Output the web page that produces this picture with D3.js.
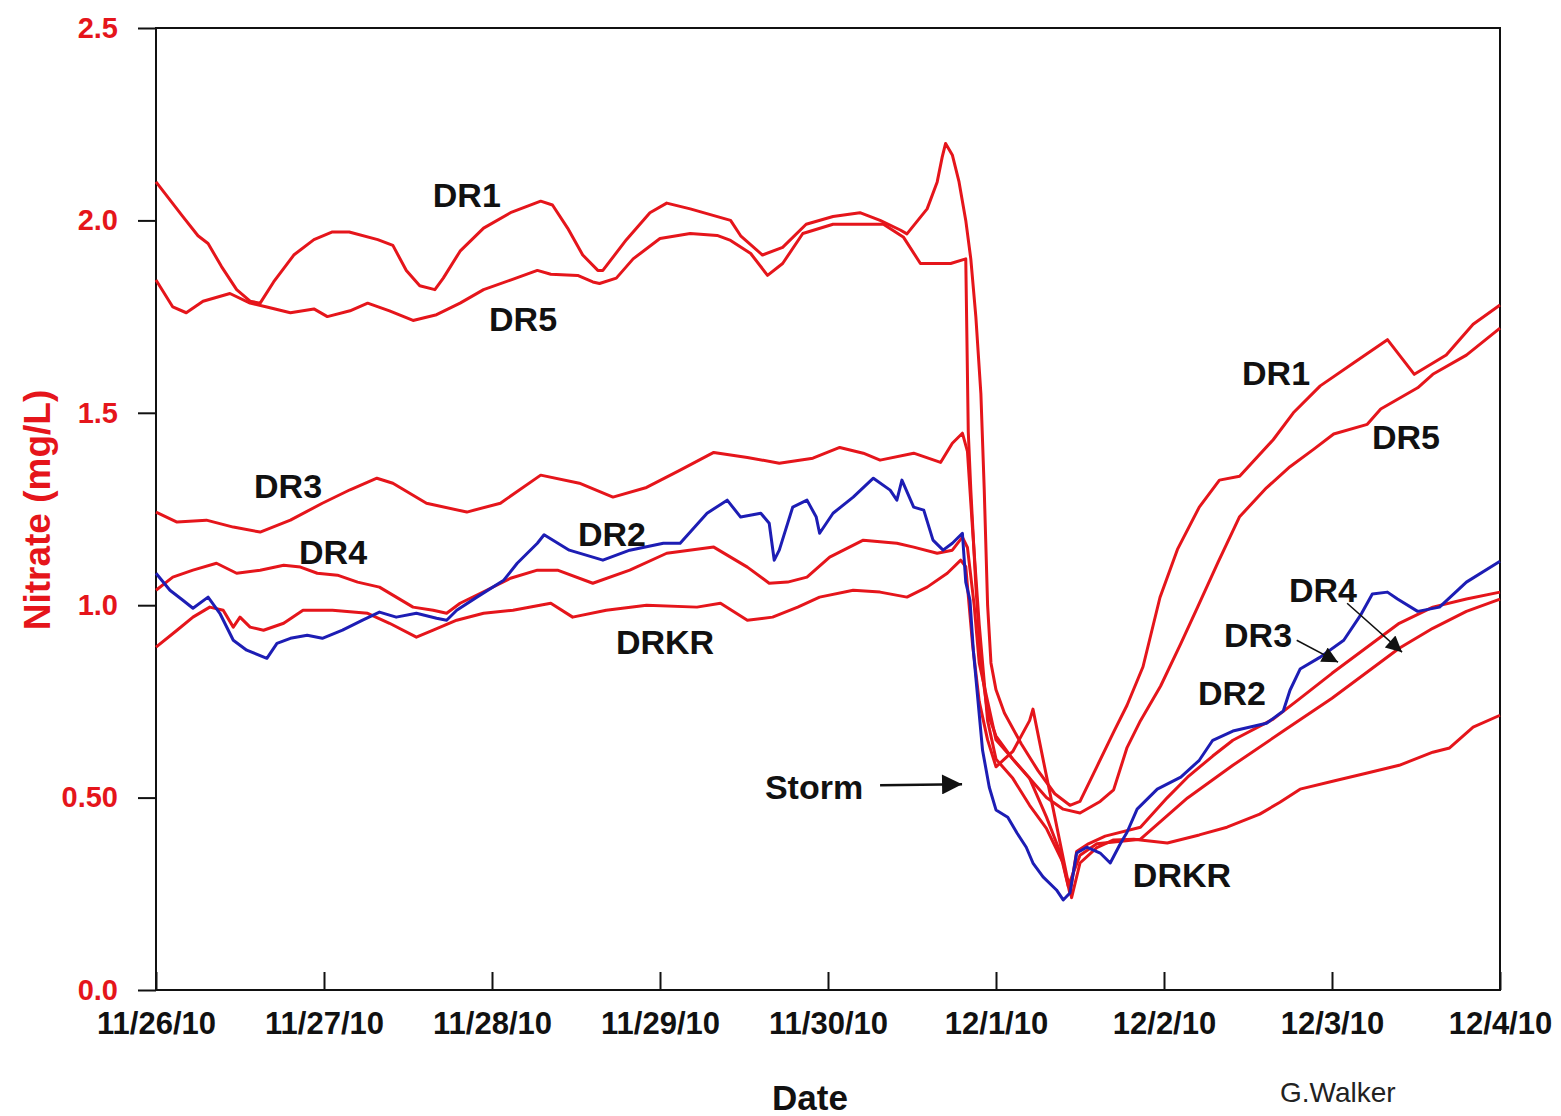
<!DOCTYPE html>
<html>
<head>
<meta charset="utf-8">
<script src="https://cdn.jsdelivr.net/npm/d3@7"></script>
<style>
  html, body { margin: 0; padding: 0; background: #fff; overflow: hidden; }
  svg { display: block; }
  text { font-family: "Liberation Sans", Arial, Helvetica, sans-serif; font-weight: bold; }
</style>
</head>
<body>
<svg id="chart" width="1561" height="1116"></svg>
<script>
// Nitrate concentration, 11/26/10 – 12/4/10. Points are [days since 11/26/10, mg/L].
const startDate = Date.UTC(2010, 10, 26);

const dr1 = [[0,2.10],[0.16,2.01],[0.25,1.96],[0.31,1.94],[0.39,1.88],[0.48,1.82],[0.56,1.79],[0.62,1.785],[0.70,1.84],[0.82,1.91],[0.94,1.95],[1.05,1.97],[1.15,1.97],[1.32,1.95],[1.41,1.935],[1.49,1.87],[1.57,1.83],[1.66,1.82],[1.71,1.85],[1.81,1.92],[1.95,1.98],[2.11,2.02],[2.29,2.05],[2.36,2.04],[2.45,1.98],[2.54,1.91],[2.63,1.87],[2.66,1.87],[2.80,1.95],[2.94,2.02],[3.04,2.045],[3.18,2.03],[3.42,2.00],[3.48,1.96],[3.61,1.91],[3.73,1.93],[3.87,1.99],[4.03,2.01],[4.19,2.02],[4.31,2.00],[4.43,1.975],[4.47,1.965],[4.59,2.03],[4.65,2.10],[4.68,2.165],[4.70,2.20],[4.74,2.17],[4.78,2.10],[4.82,2.0],[4.85,1.9],[4.88,1.75],[4.91,1.55],[4.93,1.3],[4.95,1.0],[4.97,0.85],[5.0,0.78],[5.05,0.72],[5.15,0.64],[5.25,0.57],[5.35,0.51],[5.44,0.48],[5.50,0.49],[5.60,0.58],[5.70,0.67],[5.78,0.74],[5.875,0.84],[5.976,1.02],[6.08,1.145],[6.21,1.255],[6.33,1.325],[6.45,1.335],[6.65,1.43],[6.77,1.50],[6.93,1.57],[7.13,1.63],[7.33,1.69],[7.49,1.60],[7.68,1.65],[7.84,1.73],[8.0,1.78]];

const dr5 = [[0,1.845],[0.10,1.775],[0.18,1.76],[0.28,1.79],[0.44,1.81],[0.56,1.785],[0.66,1.775],[0.80,1.76],[0.94,1.77],[1.02,1.75],[1.155,1.765],[1.26,1.785],[1.39,1.765],[1.53,1.74],[1.67,1.755],[1.81,1.785],[1.95,1.82],[2.11,1.845],[2.27,1.87],[2.35,1.86],[2.51,1.857],[2.60,1.84],[2.64,1.836],[2.74,1.85],[2.84,1.90],[3.0,1.953],[3.18,1.966],[3.34,1.961],[3.42,1.948],[3.54,1.914],[3.64,1.857],[3.73,1.888],[3.85,1.966],[4.03,1.99],[4.21,1.99],[4.33,1.99],[4.45,1.956],[4.55,1.888],[4.73,1.888],[4.82,1.90],[4.835,1.45],[4.85,1.30],[4.88,1.05],[4.91,0.85],[4.95,0.72],[5.0,0.66],[5.1,0.60],[5.2,0.55],[5.3,0.50],[5.4,0.47],[5.5,0.46],[5.62,0.49],[5.70,0.52],[5.78,0.63],[5.86,0.70],[5.98,0.79],[6.10,0.90],[6.20,0.995],[6.32,1.11],[6.45,1.23],[6.61,1.305],[6.75,1.36],[6.89,1.405],[7.01,1.445],[7.21,1.47],[7.29,1.51],[7.51,1.565],[7.60,1.60],[7.80,1.65],[8.0,1.72]];

const dr3 = [[0,1.242],[0.125,1.216],[0.30,1.221],[0.46,1.203],[0.62,1.19],[0.80,1.221],[0.99,1.265],[1.155,1.30],[1.315,1.33],[1.41,1.317],[1.61,1.265],[1.85,1.242],[2.05,1.265],[2.29,1.338],[2.52,1.317],[2.72,1.281],[2.92,1.306],[3.12,1.351],[3.32,1.397],[3.52,1.384],[3.71,1.369],[3.91,1.382],[4.07,1.41],[4.21,1.395],[4.31,1.377],[4.51,1.395],[4.67,1.371],[4.74,1.421],[4.80,1.447],[4.83,1.40],[4.86,1.20],[4.90,0.95],[4.95,0.70],[5.0,0.60],[5.1,0.55],[5.2,0.48],[5.3,0.42],[5.4,0.33],[5.44,0.25],[5.48,0.36],[5.55,0.38],[5.65,0.40],[5.86,0.423],[6.02,0.50],[6.14,0.553],[6.29,0.608],[6.41,0.649],[6.65,0.704],[6.81,0.758],[7.0,0.823],[7.2,0.888],[7.4,0.953],[7.6,0.995],[7.8,1.016],[8.0,1.034]];

const dr4 = [[0,1.039],[0.10,1.073],[0.22,1.091],[0.36,1.109],[0.48,1.083],[0.62,1.091],[0.76,1.104],[0.86,1.099],[0.96,1.083],[1.08,1.078],[1.20,1.06],[1.33,1.047],[1.43,1.021],[1.53,0.995],[1.65,0.987],[1.73,0.979],[1.81,1.005],[1.95,1.035],[2.11,1.07],[2.27,1.091],[2.39,1.091],[2.60,1.057],[2.82,1.091],[3.04,1.135],[3.32,1.151],[3.52,1.099],[3.65,1.057],[3.76,1.06],[3.875,1.073],[4.01,1.125],[4.21,1.169],[4.41,1.161],[4.51,1.151],[4.65,1.135],[4.74,1.143],[4.80,1.177],[4.83,1.15],[4.87,1.0],[4.90,0.85],[4.95,0.75],[5.0,0.65],[5.1,0.60],[5.2,0.55],[5.3,0.45],[5.38,0.36],[5.43,0.27],[5.5,0.35],[5.6,0.38],[5.86,0.392],[6.14,0.499],[6.41,0.584],[6.71,0.673],[7.0,0.758],[7.2,0.823],[7.4,0.888],[7.6,0.94],[7.8,0.984],[8.0,1.016]];

const drkr = [[0,0.891],[0.125,0.935],[0.22,0.969],[0.32,0.995],[0.40,0.987],[0.46,0.943],[0.50,0.969],[0.56,0.943],[0.64,0.935],[0.76,0.953],[0.875,0.987],[1.05,0.987],[1.26,0.979],[1.39,0.953],[1.55,0.917],[1.65,0.935],[1.79,0.961],[1.95,0.979],[2.125,0.987],[2.35,1.005],[2.48,0.969],[2.68,0.987],[2.92,1.0],[3.22,0.995],[3.36,1.005],[3.52,0.961],[3.67,0.969],[3.82,0.995],[3.95,1.021],[4.15,1.039],[4.31,1.034],[4.47,1.021],[4.59,1.047],[4.71,1.083],[4.79,1.117],[4.82,1.10],[4.86,0.90],[4.90,0.75],[4.95,0.65],[5.0,0.58],[5.1,0.62],[5.2,0.70],[5.22,0.73],[5.28,0.60],[5.35,0.45],[5.42,0.30],[5.45,0.24],[5.5,0.33],[5.6,0.37],[5.7,0.39],[5.82,0.392],[6.02,0.382],[6.21,0.403],[6.375,0.423],[6.57,0.457],[6.69,0.488],[6.81,0.522],[7.01,0.543],[7.21,0.564],[7.40,0.584],[7.60,0.618],[7.70,0.629],[7.84,0.683],[8.0,0.714]];

const dr2 = [[0,1.083],[0.083,1.039],[0.16,1.013],[0.22,0.992],[0.31,1.021],[0.38,0.979],[0.46,0.909],[0.54,0.883],[0.66,0.862],[0.72,0.901],[0.80,0.914],[0.90,0.922],[0.99,0.914],[1.11,0.935],[1.23,0.961],[1.33,0.982],[1.43,0.969],[1.55,0.979],[1.67,0.966],[1.73,0.961],[1.79,0.987],[1.91,1.021],[2.07,1.065],[2.15,1.109],[2.27,1.161],[2.31,1.183],[2.46,1.143],[2.66,1.117],[2.82,1.143],[3.02,1.161],[3.12,1.161],[3.28,1.239],[3.40,1.273],[3.48,1.229],[3.60,1.239],[3.65,1.213],[3.68,1.117],[3.71,1.143],[3.79,1.255],[3.875,1.273],[3.93,1.229],[3.95,1.187],[4.03,1.239],[4.15,1.281],[4.27,1.33],[4.37,1.299],[4.41,1.273],[4.44,1.325],[4.51,1.255],[4.57,1.247],[4.625,1.169],[4.685,1.143],[4.74,1.161],[4.80,1.187],[4.82,1.06],[4.845,1.013],[4.865,0.883],[4.92,0.623],[4.96,0.527],[5.0,0.468],[5.07,0.449],[5.125,0.408],[5.18,0.371],[5.22,0.33],[5.28,0.294],[5.36,0.26],[5.40,0.234],[5.44,0.252],[5.48,0.356],[5.54,0.371],[5.62,0.356],[5.68,0.33],[5.74,0.38],[5.78,0.41],[5.84,0.47],[5.96,0.522],[6.10,0.553],[6.21,0.597],[6.29,0.649],[6.41,0.673],[6.61,0.693],[6.71,0.725],[6.75,0.779],[6.81,0.834],[6.93,0.865],[7.07,0.909],[7.17,0.974],[7.24,1.029],[7.33,1.034],[7.39,1.016],[7.51,0.984],[7.64,0.995],[7.80,1.06],[8.0,1.114]];

// Axis ticks
const yTickValues = [0, 0.5, 1.0, 1.5, 2.0, 2.5];
const yTickLabels = ["0.0", "0.50", "1.0", "1.5", "2.0", "2.5"];
const xTickDays = [0, 1, 2, 3, 4, 5, 6, 7, 8];
const xTickLabels = ["11/26/10", "11/27/10", "11/28/10", "11/29/10", "11/30/10", "12/1/10", "12/2/10", "12/3/10", "12/4/10"];

// Series labels: [text, day, mg/L]
const seriesLabels = [
  ["DR1", 1.85, 2.065], ["DR5", 2.185, 1.745], ["DR3", 0.786, 1.309], ["DR4", 1.054, 1.138],
  ["DR2", 2.714, 1.184], ["DRKR", 3.03, 0.904],
  ["DR1", 6.667, 1.603], ["DR5", 7.44, 1.436], ["DR4", 6.946, 1.039], ["DR3", 6.56, 0.922],
  ["DR2", 6.405, 0.771], ["DRKR", 6.107, 0.299], ["Storm", 3.917, 0.527]
];
// Pointer arrows: [from day, from mg/L, to day, to mg/L, style]
const pointers = [
  [4.31, 0.532, 4.798, 0.535, "bold"],
  [6.79, 0.909, 7.036, 0.852, "thin"],
  [7.09, 1.005, 7.417, 0.878, "thin"]
];

const RED = "#e5151b";
const BLUE = "#1d1db4";

const svg = d3.select("#chart");
const plotLeft = 156, plotRight = 1500, plotTop = 28, plotBottom = 990;

const toDate = d => new Date(startDate + d * 86400000);
const x = d3.scaleUtc().domain([toDate(0), toDate(8)]).range([plotLeft, plotRight]);
const y = d3.scaleLinear().domain([0, 2.5]).range([plotBottom, plotTop]);

// Frame
svg.append("rect")
  .attr("x", plotLeft).attr("y", plotTop)
  .attr("width", plotRight - plotLeft).attr("height", plotBottom - plotTop)
  .attr("fill", "none").attr("stroke", "#111").attr("stroke-width", 2);

// Y axis (outward ticks, red labels)
const yAxis = svg.append("g")
  .attr("transform", `translate(${plotLeft},0)`)
  .call(d3.axisLeft(y).tickValues(yTickValues)
    .tickFormat((d, i) => yTickLabels[i]).tickSize(18).tickPadding(20));
yAxis.select(".domain").remove();
yAxis.selectAll("line").attr("stroke", "#111").attr("stroke-width", 2);
yAxis.selectAll("text").attr("fill", RED).attr("font-size", 29)
  .style("font-family", '"Liberation Sans", Arial, sans-serif').style("font-weight", "bold");

// X axis (inward ticks)
const xAxis = svg.append("g")
  .attr("transform", `translate(0,${plotBottom})`)
  .call(d3.axisBottom(x).tickValues(xTickDays.map(toDate))
    .tickFormat((d, i) => xTickLabels[i]).tickSizeInner(-18).tickSizeOuter(0).tickPadding(22));
xAxis.select(".domain").remove();
xAxis.selectAll("line").attr("stroke", "#111").attr("stroke-width", 2);
xAxis.selectAll("text").attr("fill", "#111").attr("font-size", 31)
  .style("font-family", '"Liberation Sans", Arial, sans-serif').style("font-weight", "bold");

// Axis titles
svg.append("text")
  .attr("transform", "translate(50,510) rotate(-90)")
  .attr("text-anchor", "middle").attr("fill", RED).attr("font-size", 37)
  .text("Nitrate (mg/L)");
svg.append("text")
  .attr("x", 810).attr("y", 1110)
  .attr("text-anchor", "middle").attr("fill", "#111").attr("font-size", 35)
  .text("Date");
// Credit line along the bottom edge
svg.append("text")
  .attr("x", 1280).attr("y", 1102)
  .attr("fill", "#222").attr("font-size", 28).style("font-weight", "normal")
  .text("G.Walker");

// Series
const line = d3.line().x(p => x(toDate(p[0]))).y(p => y(p[1]));
const series = [
  { name: "DR1", data: dr1, color: RED },
  { name: "DR5", data: dr5, color: RED },
  { name: "DR3", data: dr3, color: RED },
  { name: "DR4", data: dr4, color: RED },
  { name: "DRKR", data: drkr, color: RED },
  { name: "DR2", data: dr2, color: BLUE }
];
svg.append("g").selectAll("path").data(series).join("path")
  .attr("d", s => line(s.data))
  .attr("fill", "none")
  .attr("stroke", s => s.color)
  .attr("stroke-width", 3)
  .attr("stroke-linejoin", "round");

// Series labels
svg.append("g").selectAll("text").data(seriesLabels).join("text")
  .attr("x", d => x(toDate(d[1])))
  .attr("y", d => y(d[2]) + 12)
  .attr("text-anchor", "middle")
  .attr("fill", "#111")
  .attr("font-size", 34)
  .text(d => d[0]);

// Pointer arrows
const defs = svg.append("defs");
defs.append("marker").attr("id", "headBold")
  .attr("viewBox", "0 0 10 10").attr("refX", 10).attr("refY", 5)
  .attr("markerWidth", 27).attr("markerHeight", 20).attr("markerUnits", "userSpaceOnUse")
  .attr("orient", "auto")
  .append("path").attr("d", "M0,0 L10,5 L0,10 Z").attr("fill", "#111");
defs.append("marker").attr("id", "headThin")
  .attr("viewBox", "0 0 10 10").attr("refX", 10).attr("refY", 5)
  .attr("markerWidth", 22).attr("markerHeight", 16).attr("markerUnits", "userSpaceOnUse")
  .attr("orient", "auto")
  .append("path").attr("d", "M0,0 L10,5 L0,10 Z").attr("fill", "#111");

svg.append("g").selectAll("line").data(pointers).join("line")
  .attr("x1", d => x(toDate(d[0]))).attr("y1", d => y(d[1]))
  .attr("x2", d => x(toDate(d[2]))).attr("y2", d => y(d[3]))
  .attr("stroke", "#111")
  .attr("stroke-width", d => d[4] === "bold" ? 2.5 : 1.5)
  .attr("marker-end", d => d[4] === "bold" ? "url(#headBold)" : "url(#headThin)");
</script>
</body>
</html>
